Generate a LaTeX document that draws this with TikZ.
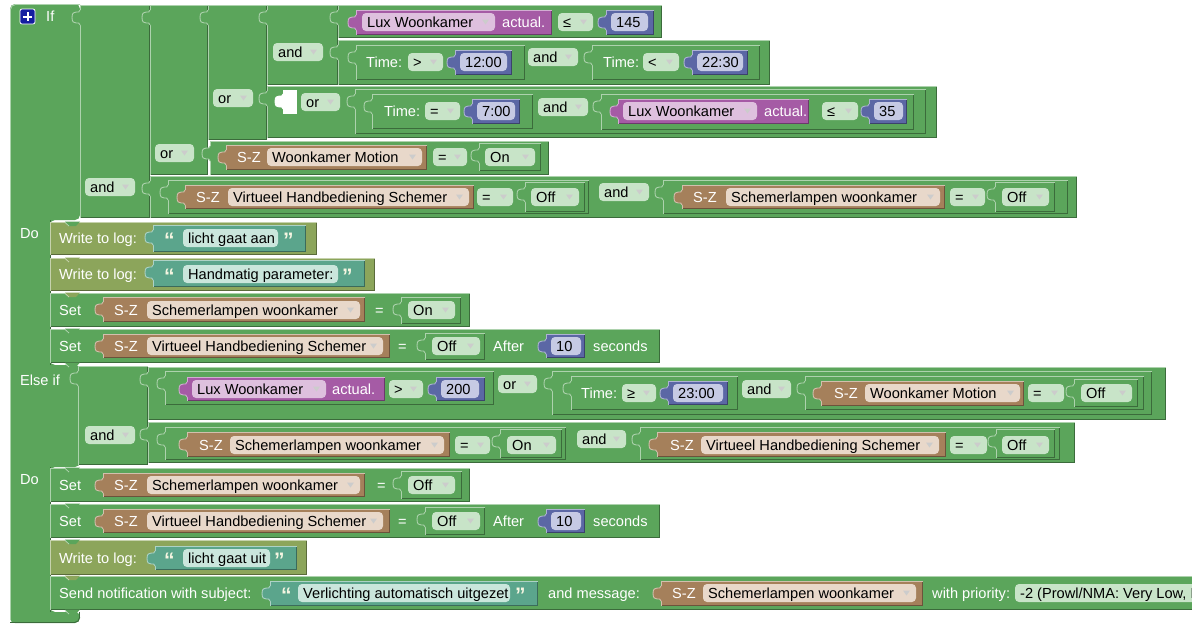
\documentclass[tikz,border=0pt]{standalone}
\usepackage{fontspec}
\setmainfont{Liberation Sans}
\definecolor{gL}{RGB}{91,165,91}
\definecolor{pL}{RGB}{165,91,165}
\definecolor{bL}{RGB}{91,103,165}
\definecolor{brL}{RGB}{165,128,91}
\definecolor{tL}{RGB}{91,165,140}
\definecolor{oL}{RGB}{140,165,91}
\definecolor{fP}{RGB}{222,192,222}
\definecolor{fB}{RGB}{198,202,228}
\definecolor{fBr}{RGB}{232,216,202}
\definecolor{fG}{RGB}{200,228,200}
\definecolor{fT}{RGB}{202,230,220}
\definecolor{qcol}{RGB}{245,245,225}
\definecolor{plusblue}{RGB}{20,30,160}
\newcommand\blfont{\fontsize{14.6}{17}\selectfont}
\newcounter{nn}
% white label: x, y-centre, text
\newcommand\xlb[3]{\stepcounter{nn}\node[lbl] (t\arabic{nn}) at (#1,#2+5) {#3};}
% quote mark: x, y-centre, glyph
\newcommand\xqt[3]{\stepcounter{nn}\node[qt] (t\arabic{nn}) at (#1,#2+10.5) {#3};}
% field: colour, x1, x2, y-centre, text
\newcommand\xfd[5]{\fill[#1,rounded corners=4] (#2,#4-9) rectangle (#3,#4+9);\stepcounter{nn}\node[ftx] (t\arabic{nn}) at (#2+5,#4+5) {#5};}
% dropdown field
\newcommand\xdd[5]{\xfd{#1}{#2}{#3}{#4}{#5}\fill[arr] (#3-13,#4-2.5) -- (#3-6,#4-2.5) -- (#3-9.5,#4+2.5) -- cycle;}
% block body
\newcommand\xbk[5]{\fill[#1] (#2,#3) rectangle (#4,#5);
  \draw[#1!65!black,line width=0.9] (#2,#5-0.45) -- (#4-0.45,#5-0.45) -- (#4-0.45,#3);
  \draw[#1!50!white,line width=0.9] (#2+0.45,#5) -- (#2+0.45,#3+0.45) -- (#4,#3+0.45);}
% output tab
\newcommand\xtb[3]{\fill[#1] (#2+0.9,#3+5) -- (#2,#3+5) .. controls (#2,#3+10) and (#2-8,#3+3) .. (#2-8,#3+12.5) .. controls (#2-8,#3+22) and (#2,#3+15) .. (#2,#3+20) -- (#2+0.9,#3+20) -- cycle;
  \draw[#1!50!white,line width=0.9] (#2,#3+5) .. controls (#2,#3+10) and (#2-8,#3+3) .. (#2-8,#3+12.5) .. controls (#2-8,#3+22) and (#2,#3+15) .. (#2,#3+20);}
% value block = body + tab
\newcommand\xvb[5]{\xbk{#1}{#2}{#3}{#4}{#5}\xtb{#1}{#2}{#3}}
% statement notch
\newcommand\xnt[3]{\fill[#1] (#2+15,#3-0.5) -- (#2+19,#3+4) -- (#2+26,#3+4) -- (#2+30,#3-0.5) -- cycle;
  \draw[#1!50!white,line width=0.8] (#2+15,#3+0.4) -- (#2+19,#3+4);}
\begin{document}
\begin{tikzpicture}[x=1pt,y=-1pt,
  lbl/.style={text=white,inner sep=0pt,anchor=base west,font=\blfont},
  ftx/.style={text=black,inner sep=0pt,anchor=base west,font=\blfont},
  qt/.style={text=qcol,inner sep=0pt,anchor=base west,font=\fontsize{21}{21}\selectfont\bfseries},
  arr/.style={fill=black!20}]
\fill[white] (0,0) rectangle (1192,630);
\useasboundingbox (0,0) rectangle (1192,630);
\begin{scope}
\clip (0,0) rectangle (1192,630);
% ---------- the If block ----------
\fill[gL,rounded corners=5] (10,4) -- (80,4) -- (80,220) -- (50,220) -- (50,365) -- (80,365) -- (80,467) -- (50,467) -- (50,612) -- (80,612) -- (80,623) -- (10,623) -- cycle;
\draw[gL!50!white,line width=0.9,rounded corners=5] (10.5,620) -- (10.5,4.5) -- (80,4.5);
\draw[gL!65!black,line width=0.9,rounded corners=5] (10,622.5) -- (79.5,622.5) -- (79.5,612);
\draw[gL!65!black,line width=0.9] (50,220) -- (50,365) (50,467) -- (50,612);
\fill[plusblue,rounded corners=2] (20,9) rectangle (35,24);
\draw[white,line width=0.8,rounded corners=2] (20,9) rectangle (35,24);
\draw[white,line width=2] (27.5,12) -- (27.5,21) (23,16.5) -- (32,16.5);
\xlb{46}{16}{If}
% ---------- If condition ----------
\xvb{gL}{80}{5}{150}{218}
\xdd{fG}{85}{135}{187}{and}
\xvb{gL}{150}{5}{208}{175}
\xdd{fG}{155}{194}{153}{or}
\xvb{gL}{208}{5}{267}{140}
\xdd{fG}{213}{253}{98}{or}
\xvb{gL}{267}{5}{338}{85}
\xdd{fG}{273}{323}{52}{and}
% Lux <= 145
\xvb{gL}{338}{5}{662}{38}
\xvb{pL}{356}{10}{552}{35}
\xdd{fP}{362}{495}{22}{Lux Woonkamer}
\xlb{502}{22}{actual.}
\xdd{fG}{558}{593}{22}{≤}
\xvb{bL}{606}{10}{654}{35}
\xfd{fB}{611}{648}{22}{145}
% Time > 12:00 and Time < 22:30
\xvb{gL}{338}{40}{770}{85}
\xvb{gL}{356}{45}{525}{80}
\xlb{366}{62}{Time:}
\xdd{fG}{408}{443}{62}{>}
\xvb{bL}{455}{50}{512}{75}
\xfd{fB}{460}{507}{62}{12:00}
\xdd{fG}{528}{578}{57}{and}
\xvb{gL}{592}{45}{760}{80}
\xlb{603}{62}{Time:}
\xdd{fG}{643}{679}{62}{<}
\xvb{bL}{692}{50}{748}{75}
\xfd{fB}{697}{743}{62}{22:30}
% inline or with empty input
\xvb{gL}{267}{86}{937}{138}
\fill[white] (283,90) rectangle (297,114);
\xtb{white}{283}{89}
\xdd{fG}{301}{340}{102}{or}
\xvb{gL}{355}{89}{926}{134}
\xvb{gL}{372}{94}{533}{129}
\xlb{384}{111}{Time:}
\xdd{fG}{425}{460}{111}{=}
\xvb{bL}{472}{99}{520}{124}
\xfd{fB}{477}{515}{111}{7:00}
\xdd{fG}{538}{588}{107}{and}
\xvb{gL}{601}{94}{914}{130}
\xvb{pL}{618}{99}{809}{124}
\xdd{fP}{623}{757}{111}{Lux Woonkamer}
\xlb{764}{111}{actual.}
\xdd{fG}{822}{858}{111}{≤}
\xvb{bL}{869}{99}{907}{124}
\xfd{fB}{874}{903}{111}{35}
% Woonkamer Motion = On
\xvb{gL}{210}{141}{549}{175}
\xvb{brL}{226}{145}{427}{170}
\xlb{237}{157}{S-Z}
\xdd{fBr}{267}{422}{157}{Woonkamer Motion}
\xdd{fG}{433}{467}{157}{=}
\xvb{gL}{479}{143}{541}{171}
\xdd{fG}{485}{535}{157}{On}
% Virtueel = Off and Schemerlampen = Off
\xvb{gL}{150}{176}{1077}{218}
\xvb{gL}{168}{180}{589}{214}
\xvb{brL}{185}{185}{474}{209}
\xlb{196}{197}{S-Z}
\xdd{fBr}{228}{469}{197}{Virtueel Handbediening Schemer}
\xdd{fG}{477}{513}{197}{=}
\xvb{gL}{525}{182}{585}{212}
\xdd{fG}{531}{579}{197}{Off}
\xdd{fG}{599}{649}{192}{and}
\xvb{gL}{663}{180}{1068}{214}
\xvb{brL}{682}{185}{945}{209}
\xlb{693}{197}{S-Z}
\xdd{fBr}{726}{940}{197}{Schemerlampen woonkamer}
\xdd{fG}{950}{985}{197}{=}
\xvb{gL}{995}{182}{1055}{212}
\xdd{fG}{1002}{1049}{197}{Off}
% ---------- Do 1 ----------
\xlb{20}{233}{Do}
\xbk{oL}{50}{222}{317}{255}
\xnt{gL}{50}{222}
\xlb{59}{238}{Write to log:}
\xvb{tL}{153}{225}{306}{252}
\xqt{164}{237}{“}
\xfd{fT}{183}{278}{238}{licht gaat aan}
\xqt{283}{237}{”}
\xbk{oL}{50}{258}{375}{291}
\xnt{oL}{50}{258}
\xlb{59}{274}{Write to log:}
\xvb{tL}{153}{260}{365}{287}
\xqt{164}{273}{“}
\xfd{fT}{183}{338}{274}{Handmatig parameter:}
\xqt{342}{273}{”}
\xbk{gL}{50}{293}{470}{327}
\xnt{oL}{50}{293}
\xlb{59}{310}{Set}
\xvb{brL}{103}{297}{365}{322}
\xlb{114}{310}{S-Z}
\xdd{fBr}{147}{360}{310}{Schemerlampen woonkamer}
\xlb{375}{310}{=}
\xvb{gL}{401}{297}{461}{324}
\xdd{fG}{408}{455}{310}{On}
\xbk{gL}{50}{329}{660}{363}
\xnt{gL}{50}{329}
\xlb{59}{346}{Set}
\xvb{brL}{103}{334}{390}{358}
\xlb{114}{346}{S-Z}
\xdd{fBr}{147}{383}{346}{Virtueel Handbediening Schemer}
\xlb{398}{346}{=}
\xvb{gL}{425}{333}{485}{360}
\xdd{fG}{432}{480}{346}{Off}
\xlb{493}{346}{After}
\xvb{bL}{546}{334}{585}{358}
\xfd{fB}{551}{581}{346}{10}
\xlb{593}{346}{seconds}
\xnt{gL}{50}{363}
% ---------- Else if ----------
\xlb{20}{380}{Else if}
\xvb{gL}{78}{366}{148}{465}
\xdd{fG}{85}{135}{435}{and}
\xvb{gL}{148}{367}{1166}{420}
\xvb{gL}{165}{371}{494}{405}
\xvb{pL}{187}{377}{385}{401}
\xdd{fP}{192}{326}{389}{Lux Woonkamer}
\xlb{332}{389}{actual.}
\xdd{fG}{389}{423}{389}{>}
\xvb{bL}{436}{377}{485}{401}
\xfd{fB}{441}{479}{389}{200}
\xdd{fG}{498}{537}{384}{or}
\xvb{gL}{552}{371}{1152}{415}
\xvb{gL}{571}{376}{738}{410}
\xlb{581}{393}{Time:}
\xdd{fG}{622}{656}{393}{≥}
\xvb{bL}{668}{381}{728}{405}
\xfd{fB}{673}{723}{393}{23:00}
\xdd{fG}{742}{791}{389}{and}
\xvb{gL}{805}{376}{1144}{410}
\xvb{brL}{821}{381}{1024}{406}
\xlb{834}{393}{S-Z}
\xdd{fBr}{865}{1020}{393}{Woonkamer Motion}
\xdd{fG}{1028}{1064}{393}{=}
\xvb{gL}{1074}{379}{1138}{407}
\xdd{fG}{1081}{1132}{393}{Off}
\xvb{gL}{148}{422}{1075}{463}
\xvb{gL}{165}{427}{566}{460}
\xvb{brL}{187}{432}{450}{457}
\xlb{199}{445}{S-Z}
\xdd{fBr}{230}{444}{445}{Schemerlampen woonkamer}
\xdd{fG}{455}{490}{445}{=}
\xvb{gL}{500}{429}{562}{458}
\xdd{fG}{507}{556}{445}{On}
\xdd{fG}{577}{626}{439}{and}
\xvb{gL}{640}{427}{1060}{460}
\xvb{brL}{657}{432}{946}{457}
\xlb{670}{445}{S-Z}
\xdd{fBr}{701}{939}{445}{Virtueel Handbediening Schemer}
\xdd{fG}{950}{987}{445}{=}
\xvb{gL}{996}{429}{1055}{458}
\xdd{fG}{1002}{1049}{445}{Off}
% ---------- Do 2 ----------
\xlb{20}{479}{Do}
\xbk{gL}{50}{468}{470}{502}
\xnt{gL}{50}{468}
\xlb{59}{485}{Set}
\xvb{brL}{103}{473}{365}{497}
\xlb{114}{485}{S-Z}
\xdd{fBr}{147}{360}{485}{Schemerlampen woonkamer}
\xlb{377}{485}{=}
\xvb{gL}{401}{471}{462}{499}
\xdd{fG}{408}{455}{485}{Off}
\xbk{gL}{50}{504}{660}{538}
\xnt{gL}{50}{504}
\xlb{59}{521}{Set}
\xvb{brL}{103}{509}{390}{533}
\xlb{114}{521}{S-Z}
\xdd{fBr}{147}{383}{521}{Virtueel Handbediening Schemer}
\xlb{398}{521}{=}
\xvb{gL}{425}{507}{485}{535}
\xdd{fG}{432}{480}{521}{Off}
\xlb{493}{521}{After}
\xvb{bL}{546}{509}{585}{533}
\xfd{fB}{551}{581}{521}{10}
\xlb{593}{521}{seconds}
\xbk{oL}{50}{540}{307}{575}
\xnt{gL}{50}{540}
\xlb{59}{558}{Write to log:}
\xvb{tL}{155}{546}{297}{570}
\xqt{164}{557}{“}
\xfd{fT}{183}{270}{558}{licht gaat uit}
\xqt{274}{557}{”}
\xbk{gL}{50}{576}{1200}{610}
\xnt{oL}{50}{576}
\xlb{59}{593}{Send notification with subject:}
\xvb{tL}{270}{581}{538}{606}
\xqt{281}{592}{“}
\xfd{fT}{298}{510}{593}{Verlichting automatisch uitgezet}
\xqt{515}{592}{”}
\xlb{548}{593}{and message:}
\xvb{brL}{661}{581}{923}{606}
\xlb{672}{593}{S-Z}
\xdd{fBr}{703}{916}{593}{Schemerlampen woonkamer}
\xlb{932}{593}{with priority:}
\xfd{fG}{1015}{1220}{593}{-2 (Prowl/NMA: Very Low, F}
\xnt{gL}{50}{610}
\end{scope}
\end{tikzpicture}
\end{document}
